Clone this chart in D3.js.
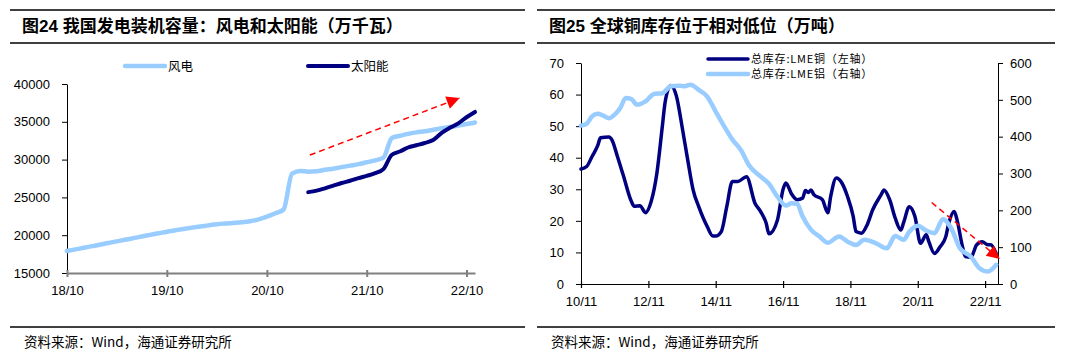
<!DOCTYPE html>
<html>
<head>
<meta charset="utf-8">
<script src="https://cdn.jsdelivr.net/npm/d3@7"></script>
<style>
    body { margin: 0; background: #fff; }
    svg { display: block; font-family: "Liberation Sans", Arial, "Noto Sans CJK SC", sans-serif; }
    .cn { font-family: "Noto Sans CJK SC", "Liberation Sans", sans-serif; }
</style>
</head>
<body>
<div id="chart"></div>
<script>
// Two panels: installed wind/solar capacity (left), LME copper/aluminium stocks (right)

// ---- left panel data (month of the reading, 万千瓦) ----
const windMonths = [
    "2018-09", "2018-10", "2018-11", "2018-12",
    "2019-01", "2019-02", "2019-03", "2019-04", "2019-05", "2019-06",
    "2019-07", "2019-08", "2019-09", "2019-10", "2019-11", "2019-12",
    "2020-01", "2020-02", "2020-03", "2020-04", "2020-05", "2020-06",
    "2020-07", "2020-08", "2020-09", "2020-10", "2020-11", "2020-12",
    "2021-01", "2021-02", "2021-03", "2021-04", "2021-05", "2021-06",
    "2021-07", "2021-08", "2021-09", "2021-10", "2021-11", "2021-12",
    "2022-01", "2022-02", "2022-03", "2022-04", "2022-05", "2022-06",
    "2022-07", "2022-08", "2022-09", "2022-10"
];
const windValues = [
    17900, 18120, 18330, 18550,
    18760, 18970, 19180, 19400, 19610, 19830,
    20040, 20250, 20460, 20650, 20830, 21000,
    21150, 21300, 21450, 21550, 21620, 21700,
    21850, 22100, 22450, 22900, 23400, 28150,
    28500, 28400, 28450, 28650, 28800, 29000,
    29200, 29400, 29650, 29900, 30250, 32850,
    33150, 33400, 33600, 33750, 33950, 34150,
    34300, 34500, 34700, 34900
];
const solarValues = [
    null, null, null, null,
    null, null, null, null, null, null,
    null, null, null, null, null, null,
    null, null, null, null, null, null,
    null, null, null, null, null, null,
    null, 25700, 25900, 26200, 26550, 26900,
    27200, 27550, 27850, 28200, 28750, 30650,
    31100, 31600, 31900, 32200, 32600, 33500,
    34200, 34800, 35600, 36300
];
const capacityTicks = [15000, 20000, 25000, 30000, 35000, 40000];
const capacityDateTicks = ["2018-10", "2019-10", "2020-10", "2021-10", "2022-10"];
const capacityTrend = [
    { date: "2021-03-07", value: 30600 },
    { date: "2022-09-06", value: 38150 }
];

// ---- right panel data (万吨) ----
const copperDates = [
    "2010-11", "2011-01", "2011-03", "2011-05", "2011-06", "2011-09", "2011-10", "2011-12",
    "2012-02", "2012-05", "2012-06", "2012-08", "2012-10", "2012-12",
    "2013-02", "2013-04", "2013-05", "2013-07", "2013-09", "2013-11",
    "2014-01", "2014-03", "2014-05", "2014-08", "2014-10", "2014-11",
    "2015-01", "2015-03", "2015-05", "2015-07", "2015-10",
    "2016-01", "2016-03", "2016-05", "2016-06", "2016-09", "2016-11", "2016-12",
    "2017-02", "2017-04", "2017-06", "2017-07", "2017-08", "2017-09", "2017-10",
    "2018-01", "2018-03", "2018-04", "2018-06", "2018-08", "2018-10", "2018-12",
    "2019-01", "2019-03", "2019-05", "2019-07", "2019-10", "2019-11",
    "2020-01", "2020-03", "2020-05", "2020-06", "2020-08", "2020-10", "2020-12",
    "2021-02", "2021-03", "2021-05", "2021-07", "2021-09", "2021-10", "2021-12",
    "2022-01", "2022-03", "2022-04", "2022-06", "2022-08", "2022-10", "2022-12",
    "2023-01", "2023-03"
];
const copperValues = [
    36.4, 37.2, 40.4, 43.8, 46.3, 46.6, 45.7, 40.4,
    34.6, 26.1, 24.6, 24.8, 22.6, 26.1,
    35.1, 49.9, 57.5, 62.9, 59.5, 49.9,
    39.4, 29.8, 24.5, 18.2, 15.2, 15.2,
    16.6, 24.5, 32.5, 32.5, 34.0,
    25.6, 23.0, 19.3, 15.9, 20.3, 30.0, 32.0,
    28.5, 26.7, 27.2, 29.6, 29.0, 29.8, 28.3,
    26.7, 22.6, 27.7, 33.6, 32.0, 27.7, 21.5,
    16.6, 16.1, 18.7, 23.5, 28.3, 29.8,
    26.7, 20.9, 17.1, 19.5, 24.5, 21.4, 12.9,
    15.6, 13.4, 9.7, 11.8, 15.0, 19.0, 23.0,
    20.3, 11.8, 8.7, 8.5, 12.4, 13.4, 12.4,
    12.4, 9.7
];
const aluDates = [
    "2010-11", "2011-01", "2011-03", "2011-05", "2011-07", "2011-09", "2011-11",
    "2012-01", "2012-03", "2012-05", "2012-07", "2012-10",
    "2013-01", "2013-04", "2013-07", "2013-10", "2013-12",
    "2014-02", "2014-05", "2014-08", "2014-11",
    "2015-02", "2015-05", "2015-08", "2015-11",
    "2016-03", "2016-06", "2016-09", "2016-12",
    "2017-02", "2017-04", "2017-06", "2017-09", "2017-12",
    "2018-03", "2018-07", "2018-10",
    "2019-01", "2019-04", "2019-08", "2019-12",
    "2020-03", "2020-06", "2020-08", "2020-11",
    "2021-02", "2021-05", "2021-08", "2021-11",
    "2022-02", "2022-06", "2022-09", "2022-12",
    "2023-03"
];
const aluValues = [
    430, 435, 455, 462, 457, 450, 460,
    478, 505, 502, 487, 496,
    516, 518, 537, 538, 537,
    541, 527, 509, 468,
    428, 392, 364, 321,
    292, 272, 237, 213,
    219, 218, 183, 147, 129,
    112, 129, 115,
    106, 120, 111, 97,
    130, 120, 142, 158,
    145, 138, 176, 150,
    97, 74, 43, 34,
    52
];
const copperTicks = [0, 10, 20, 30, 40, 50, 60, 70];
const aluTicks = [0, 100, 200, 300, 400, 500, 600];
const stockDateTicks = ["2010-11", "2012-11", "2014-11", "2016-11", "2018-11", "2020-11", "2022-11"];
const stockTrend = [
    { date: "2021-04-01", value: 25.8 },
    { date: "2023-04-10", value: 7.9 }
];

const LIGHT = "#99ccff";
const NAVY = "#000080";

const parseMonth = d3.timeParse("%Y-%m");
const parseDay = d3.timeParse("%Y-%m-%d");

const svg = d3.select("#chart")
    .append("svg")
    .attr("width", 1065)
    .attr("height", 360);

// arrow heads for the red trend lines
const defs = svg.append("defs");
defs.append("marker")
    .attr("id", "redArrow")
    .attr("markerUnits", "userSpaceOnUse")
    .attr("viewBox", "0 0 10 10")
    .attr("refX", 10)
    .attr("refY", 5)
    .attr("markerWidth", 15)
    .attr("markerHeight", 13)
    .attr("orient", "auto")
    .append("path")
    .attr("d", "M0,0L10,5L0,10Z")
    .attr("fill", "red");

// Title bar and source line around each panel
function drawFrame(x0, x1, title) {
    const g = svg.append("g");
    [10, 43, 327].forEach(y => {
        g.append("line")
            .attr("x1", x0).attr("x2", x1)
            .attr("y1", y).attr("y2", y)
            .attr("stroke", "#000")
            .attr("stroke-width", 1.5);
    });
    g.append("text")
        .attr("x", x0 + 12)
        .attr("y", 32)
        .attr("font-size", 17)
        .attr("font-weight", "bold")
        .text(title);
    g.append("text")
        .attr("class", "cn")
        .attr("x", x0 + 14)
        .attr("y", 347)
        .attr("font-size", 13.5)
        .text("资料来源：Wind，海通证券研究所");
}

function styleAxis(g, color, width) {
    g.select(".domain").attr("stroke", color).attr("stroke-width", width);
    g.selectAll(".tick line").attr("stroke", color).attr("stroke-width", width);
    g.selectAll(".tick text").attr("fill", "#000").attr("font-size", 13);
}

function legendItem(x, y, color, width, label, size, spacing) {
    svg.append("line")
        .attr("x1", x).attr("x2", x + 40)
        .attr("y1", y).attr("y2", y)
        .attr("stroke", color)
        .attr("stroke-width", width)
        .attr("stroke-linecap", "round");
    svg.append("text")
        .attr("class", "cn")
        .attr("x", x + 43)
        .attr("y", y + size * 0.36)
        .attr("font-size", size)
        .attr("letter-spacing", spacing)
        .text(label);
}

// ---------------- left panel ----------------
function drawCapacity() {
    drawFrame(10, 525, "图24 我国发电装机容量：风电和太阳能（万千瓦）");

    const data = windMonths.map((m, i) => ({
        date: d3.timeMonth.offset(parseMonth(m), 1),
        wind: windValues[i],
        solar: solarValues[i]
    }));

    const x = d3.scaleTime()
        .domain([parseMonth("2018-10"), parseMonth("2022-11")])
        .range([67, 475]);
    const y = d3.scaleLinear()
        .domain([15000, 40000])
        .range([273, 84]);

    const yAxis = svg.append("g")
        .attr("transform", "translate(67,0)")
        .call(d3.axisLeft(y).tickValues(capacityTicks).tickSize(5).tickSizeOuter(0)
            .tickPadding(12).tickFormat(d3.format("d")));
    styleAxis(yAxis, "#000", 1);

    const xAxis = svg.append("g")
        .attr("transform", "translate(0,273)")
        .call(d3.axisBottom(x).tickValues(capacityDateTicks.map(parseMonth)).tickSize(4)
            .tickSizeOuter(0).tickPadding(9).tickFormat(d3.timeFormat("%y/%m")));
    styleAxis(xAxis, "#808080", 2);
    xAxis.selectAll(".tick line").attr("y1", -3);

    const line = key => d3.line()
        .defined(d => d[key] != null)
        .x(d => x(d.date))
        .y(d => y(d[key]))
        .curve(d3.curveMonotoneX);

    svg.append("path")
        .datum(data)
        .attr("fill", "none")
        .attr("stroke", LIGHT)
        .attr("stroke-width", 4.5)
        .attr("stroke-linecap", "round")
        .attr("d", line("wind"));

    svg.append("path")
        .datum(data)
        .attr("fill", "none")
        .attr("stroke", NAVY)
        .attr("stroke-width", 4)
        .attr("stroke-linecap", "round")
        .attr("d", line("solar"));

    svg.append("line")
        .attr("x1", x(parseDay(capacityTrend[0].date)))
        .attr("y1", y(capacityTrend[0].value))
        .attr("x2", x(parseDay(capacityTrend[1].date)))
        .attr("y2", y(capacityTrend[1].value))
        .attr("stroke", "red")
        .attr("stroke-width", 1.5)
        .attr("stroke-dasharray", "6,4")
        .attr("marker-end", "url(#redArrow)");

    legendItem(125, 66, LIGHT, 4.5, "风电", 12.5, 0);
    legendItem(308, 66, NAVY, 4, "太阳能", 12.5, 0);
}

// ---------------- right panel ----------------
function drawStocks() {
    drawFrame(537, 1055, "图25 全球铜库存位于相对低位（万吨）");

    const copper = copperDates.map((m, i) => ({ date: parseMonth(m), value: copperValues[i] }));
    const alu = aluDates.map((m, i) => ({ date: parseMonth(m), value: aluValues[i] }));

    const x = d3.scaleTime()
        .domain([parseMonth("2010-11"), parseMonth("2023-04")])
        .range([581, 999]);
    const yLeft = d3.scaleLinear().domain([0, 70]).range([284, 63]);
    const yRight = d3.scaleLinear().domain([0, 600]).range([284, 63]);

    const left = svg.append("g")
        .attr("transform", "translate(581,0)")
        .call(d3.axisLeft(yLeft).tickValues(copperTicks).tickSize(5).tickSizeOuter(0).tickPadding(12));
    styleAxis(left, "#000", 1);

    const right = svg.append("g")
        .attr("transform", "translate(998,0)")
        .call(d3.axisRight(yRight).tickValues(aluTicks).tickSize(5).tickSizeOuter(0).tickPadding(7));
    styleAxis(right, "#000", 1);

    const bottom = svg.append("g")
        .attr("transform", "translate(0,284)")
        .call(d3.axisBottom(x).tickValues(stockDateTicks.map(parseMonth)).tickSize(4)
            .tickSizeOuter(0).tickPadding(9).tickFormat(d3.timeFormat("%y/%m")));
    styleAxis(bottom, "#000", 1.2);
    bottom.selectAll(".tick line").attr("y1", -3);

    svg.append("path")
        .datum(copper)
        .attr("fill", "none")
        .attr("stroke", NAVY)
        .attr("stroke-width", 3.5)
        .attr("stroke-linecap", "round")
        .attr("d", d3.line().x(d => x(d.date)).y(d => yLeft(d.value)).curve(d3.curveMonotoneX));

    svg.append("path")
        .datum(alu)
        .attr("fill", "none")
        .attr("stroke", LIGHT)
        .attr("stroke-width", 4.5)
        .attr("stroke-linecap", "round")
        .attr("d", d3.line().x(d => x(d.date)).y(d => yRight(d.value)).curve(d3.curveMonotoneX));

    svg.append("line")
        .attr("x1", x(parseDay(stockTrend[0].date)))
        .attr("y1", yLeft(stockTrend[0].value))
        .attr("x2", x(parseDay(stockTrend[1].date)))
        .attr("y2", yLeft(stockTrend[1].value))
        .attr("stroke", "red")
        .attr("stroke-width", 1.5)
        .attr("stroke-dasharray", "6,4")
        .attr("marker-end", "url(#redArrow)");

    legendItem(708, 59, NAVY, 3.5, "总库存:LME铜（左轴）", 11, 0.8);
    legendItem(708, 74, LIGHT, 4.5, "总库存:LME铝（右轴）", 11, 0.8);
}

drawCapacity();
drawStocks();
</script>
</body>
</html>
